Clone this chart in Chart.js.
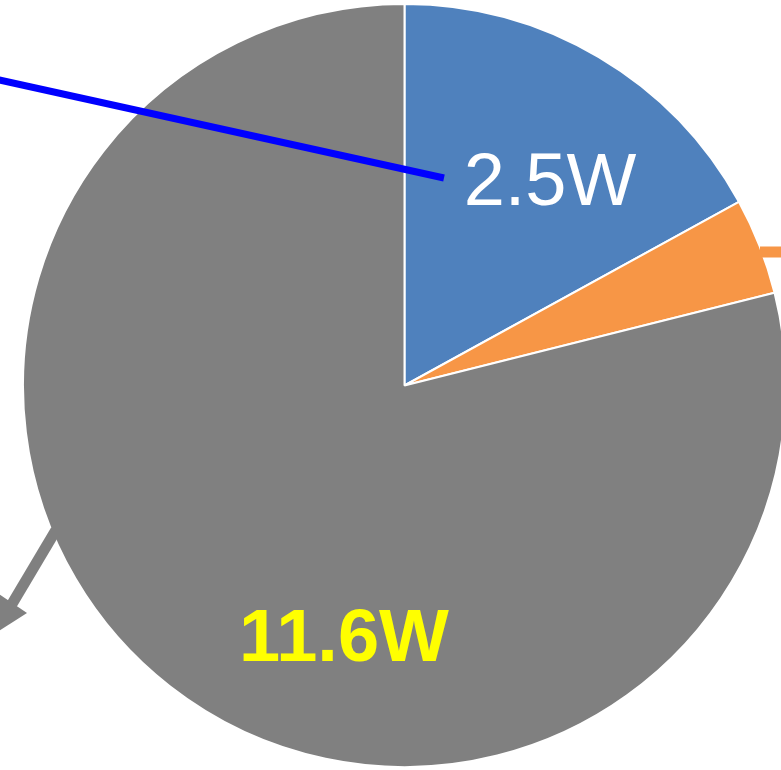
<!DOCTYPE html>
<html>
<head>
<meta charset="utf-8">
<script src="https://cdn.jsdelivr.net/npm/chart.js@4/dist/chart.umd.min.js"></script>
<style>
  html, body { margin: 0; padding: 0; background: #fff; overflow: hidden; }
  #wrap { position: absolute; left: 0; top: 0; width: 781px; height: 770px; overflow: hidden; }
  canvas { position: absolute; left: 0; top: 0; }
</style>
</head>
<body>
<div id="wrap"><canvas id="pie" width="800" height="770"></canvas></div>
<script>
// data -----------------------
const categories = ['A', 'B', 'C'];
const powerValues = [2.5, 0.6, 11.6];
const sliceColors = ['#4F81BD', '#F79646', '#808080'];
const sliceLabels = ['2.5W', '', '11.6W'];

// labels + callout lines drawn on top of the pie
const calloutPlugin = {
  id: 'callouts',
  afterDraw(chart) {
    const ctx = chart.ctx;
    ctx.save();
    ctx.lineCap = 'butt';

    // blue callout
    ctx.strokeStyle = '#0000FF';
    ctx.lineWidth = 7;
    ctx.beginPath();
    ctx.moveTo(-5, 79);
    ctx.lineTo(444, 178);
    ctx.stroke();

    // orange callout
    ctx.strokeStyle = '#F79646';
    ctx.lineWidth = 11;
    ctx.beginPath();
    ctx.moveTo(760, 252);
    ctx.lineTo(800, 252);
    ctx.stroke();

    // gray arrow
    ctx.strokeStyle = '#808080';
    ctx.fillStyle = '#808080';
    ctx.lineWidth = 11;
    ctx.beginPath();
    ctx.moveTo(56, 530);
    ctx.lineTo(12, 604);
    ctx.stroke();
    ctx.beginPath();
    ctx.moveTo(-4, 592);
    ctx.lineTo(27, 613);
    ctx.lineTo(-6, 634);
    ctx.closePath();
    ctx.fill();

    // value labels
    ctx.textAlign = 'center';
    ctx.textBaseline = 'alphabetic';
    ctx.fillStyle = '#FFFFFF';
    ctx.font = '74px "Liberation Sans", Arial, sans-serif';
    ctx.fillText(sliceLabels[0], 550, 205);
    ctx.fillStyle = '#FFFF00';
    ctx.font = 'bold 74px "Liberation Sans", Arial, sans-serif';
    ctx.fillText(sliceLabels[2], 344, 661);

    ctx.restore();
  },
};

new Chart(document.getElementById('pie'), {
  type: 'pie',
  data: {
    labels: categories,
    datasets: [{
      data: powerValues,
      backgroundColor: sliceColors,
      borderColor: '#FFFFFF',
      borderWidth: 2,
    }],
  },
  options: {
    responsive: false,
    animation: false,
    devicePixelRatio: 1,
    layout: { padding: { left: 22, right: 13, top: 3, bottom: 2 } },
    plugins: {
      legend: { display: false },
      tooltip: { enabled: false },
    },
  },
  plugins: [calloutPlugin],
});
</script>
</body>
</html>
